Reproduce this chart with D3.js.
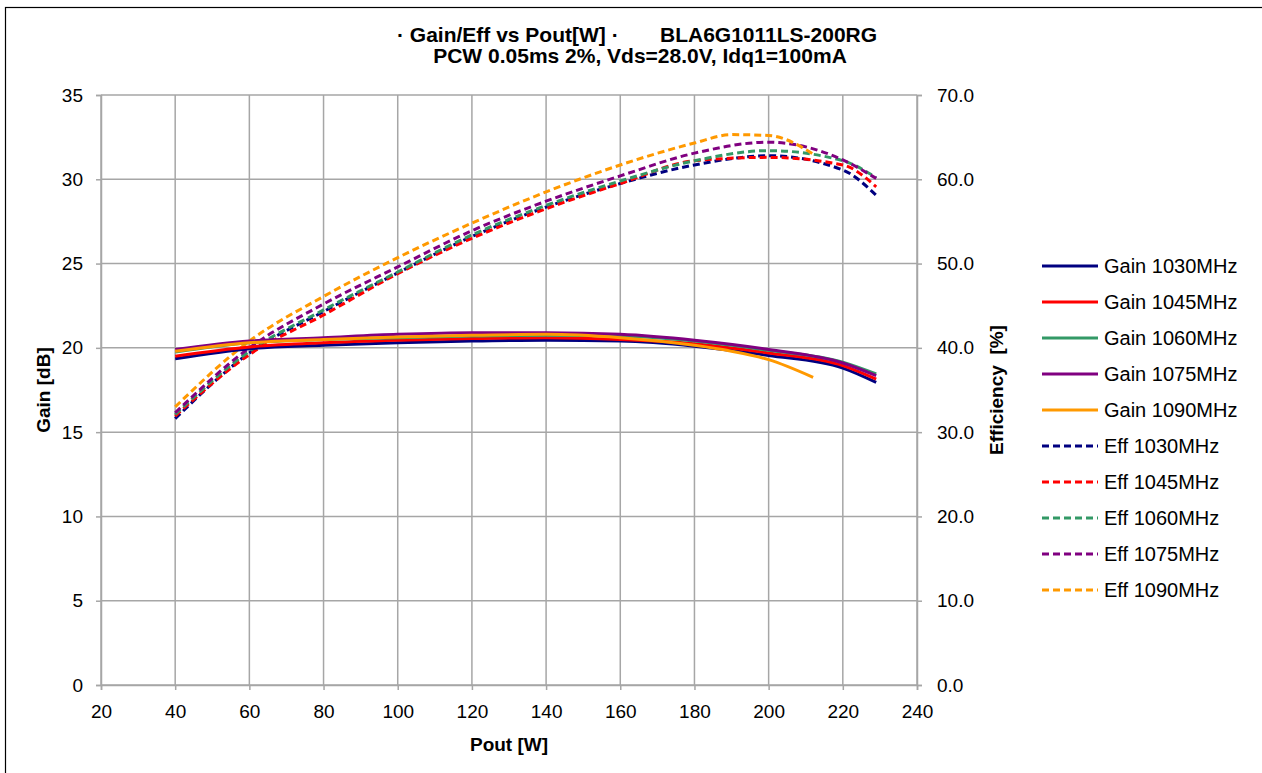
<!DOCTYPE html>
<html>
<head>
<meta charset="utf-8">
<script src="https://cdn.jsdelivr.net/npm/d3@7"></script>
<style>
  body { margin: 0; background: #fff; }
  svg { display: block; font-family: Arial, "Liberation Sans", sans-serif; }
</style>
</head>
<body>
<div id="chart"></div>
<script>
// Pout sample points [W]
const poutAll = [40, 60, 80, 100, 120, 140, 160, 180, 200, 220, 229];
const pout1090 = [40, 60, 80, 100, 120, 140, 160, 180, 190, 200, 212];

// Gain [dB]
const gain1030 = [19.35, 19.95, 20.15, 20.3, 20.4, 20.45, 20.4, 20.1, 19.55, 18.8, 17.95];
const gain1045 = [19.5, 20.05, 20.3, 20.45, 20.55, 20.6, 20.5, 20.25, 19.7, 18.95, 18.15];
const gain1060 = [19.75, 20.3, 20.5, 20.6, 20.7, 20.75, 20.7, 20.4, 19.85, 19.15, 18.45];
const gain1075 = [19.9, 20.4, 20.6, 20.8, 20.9, 20.9, 20.8, 20.45, 19.9, 19.1, 18.35];
const gain1090 = [19.8, 20.3, 20.5, 20.65, 20.75, 20.8, 20.6, 20.15, 19.8, 19.3, 18.25];

// Efficiency [%]
const eff1030 = [31.6, 39.4, 44.3, 48.9, 53.2, 56.7, 59.5, 61.7, 62.8, 61.1, 58.1];
const eff1045 = [31.9, 39.2, 43.9, 48.8, 53.0, 56.5, 59.5, 62.2, 62.6, 61.7, 59.1];
const eff1060 = [32.1, 39.6, 44.5, 49.0, 53.4, 56.9, 59.8, 62.2, 63.4, 62.2, 60.2];
const eff1075 = [32.3, 40.0, 45.2, 49.6, 53.9, 57.4, 60.4, 63.1, 64.4, 62.3, 60.1];
const eff1090 = [33.0, 40.8, 46.1, 50.7, 54.8, 58.5, 61.7, 64.3, 65.3, 65.2, 63.0];

const freqs = ['1030MHz', '1045MHz', '1060MHz', '1075MHz', '1090MHz'];
const colors = ['#000080', '#ff0000', '#339966', '#800080', '#ff9900'];

const xTicks = d3.range(20, 241, 20);
const gainTicks = d3.range(0, 36, 5);
const effTicks = d3.range(0, 71, 10);

const gainSeries = [
  { name: 'Gain ' + freqs[0], x: poutAll, y: gain1030, color: colors[0] },
  { name: 'Gain ' + freqs[1], x: poutAll, y: gain1045, color: colors[1] },
  { name: 'Gain ' + freqs[2], x: poutAll, y: gain1060, color: colors[2] },
  { name: 'Gain ' + freqs[3], x: poutAll, y: gain1075, color: colors[3] },
  { name: 'Gain ' + freqs[4], x: pout1090, y: gain1090, color: colors[4] }
];
const effSeries = [
  { name: 'Eff ' + freqs[0], x: poutAll, y: eff1030, color: colors[0] },
  { name: 'Eff ' + freqs[1], x: poutAll, y: eff1045, color: colors[1] },
  { name: 'Eff ' + freqs[2], x: poutAll, y: eff1060, color: colors[2] },
  { name: 'Eff ' + freqs[3], x: poutAll, y: eff1075, color: colors[3] },
  { name: 'Eff ' + freqs[4], x: pout1090, y: eff1090, color: colors[4] }
];

const width = 1262, height = 773;
const margin = { top: 95, right: 345, bottom: 88, left: 101 };
const plotW = width - margin.left - margin.right;
const plotH = height - margin.top - margin.bottom;
const GRID = '#a6a6a6';
const DASH = '7,4';

const svg = d3.select('#chart').append('svg')
  .attr('width', width)
  .attr('height', height);

// outer chart frame (right/bottom edges fall outside the picture)
svg.append('rect')
  .attr('x', 5.5).attr('y', 7.5)
  .attr('width', width + 20).attr('height', height + 20)
  .attr('fill', 'none').attr('stroke', '#000').attr('stroke-width', 1.2);

const x = d3.scaleLinear().domain([20, 240]).range([0, plotW]);
const yGain = d3.scaleLinear().domain([0, 35]).range([plotH, 0]);
const yEff = d3.scaleLinear().domain([0, 70]).range([plotH, 0]);

const g = svg.append('g').attr('transform', `translate(${margin.left},${margin.top})`);

// grid lines
g.append('g').selectAll('line').data(xTicks).join('line')
  .attr('x1', d => x(d)).attr('x2', d => x(d))
  .attr('y1', 0).attr('y2', plotH)
  .attr('stroke', GRID).attr('stroke-width', 1.5);
g.append('g').selectAll('line').data(gainTicks).join('line')
  .attr('x1', 0).attr('x2', plotW)
  .attr('y1', d => yGain(d)).attr('y2', d => yGain(d))
  .attr('stroke', GRID).attr('stroke-width', 1.5);

// axes
function styleAxis(sel) {
  sel.select('.domain').attr('stroke', GRID).attr('stroke-width', 1.5);
  sel.selectAll('.tick line').attr('stroke', GRID).attr('stroke-width', 1.5);
  sel.selectAll('.tick text').attr('fill', '#000').style('font-size', '19px');
}

g.append('g')
  .attr('transform', `translate(0,${plotH})`)
  .call(d3.axisBottom(x).tickValues(xTicks).tickSizeOuter(0).tickSize(5).tickPadding(15))
  .call(styleAxis);

g.append('g')
  .call(d3.axisLeft(yGain).tickValues(gainTicks).tickSizeOuter(0).tickSize(5).tickPadding(13))
  .call(styleAxis);

g.append('g')
  .attr('transform', `translate(${plotW},0)`)
  .call(d3.axisRight(yEff).tickValues(effTicks).tickFormat(d3.format('.1f')).tickSizeOuter(0).tickSize(5).tickPadding(15))
  .call(styleAxis);

// series lines
const line = d3.line().curve(d3.curveMonotoneX);

effSeries.forEach(s => {
  g.append('path')
    .datum(s.x.map((v, i) => [x(v), yEff(s.y[i])]))
    .attr('d', line)
    .attr('fill', 'none')
    .attr('stroke', s.color)
    .attr('stroke-width', 3)
    .attr('stroke-dasharray', DASH);
});

gainSeries.forEach(s => {
  g.append('path')
    .datum(s.x.map((v, i) => [x(v), yGain(s.y[i])]))
    .attr('d', line)
    .attr('fill', 'none')
    .attr('stroke', s.color)
    .attr('stroke-width', 3);
});

// axis titles
svg.append('text')
  .attr('x', margin.left + plotW / 2).attr('y', 751)
  .attr('text-anchor', 'middle')
  .style('font-size', '19px').style('font-weight', 'bold')
  .text('Pout [W]');

svg.append('text')
  .attr('transform', `translate(50,${margin.top + plotH / 2}) rotate(-90)`)
  .attr('text-anchor', 'middle')
  .style('font-size', '19px').style('font-weight', 'bold')
  .text('Gain [dB]');

svg.append('text')
  .attr('transform', `translate(1003,${margin.top + plotH / 2}) rotate(-90)`)
  .attr('text-anchor', 'middle')
  .style('font-size', '19px').style('font-weight', 'bold')
  .style('white-space', 'pre')
  .text('Efficiency  [%]');

// title
svg.append('text')
  .attr('x', 397).attr('y', 42)
  .style('font-size', '21px').style('font-weight', 'bold')
  .text('· Gain/Eff vs Pout[W] ·');
svg.append('text')
  .attr('x', 660).attr('y', 42)
  .style('font-size', '21px').style('font-weight', 'bold')
  .text('BLA6G1011LS-200RG');
svg.append('text')
  .attr('x', 640).attr('y', 63)
  .attr('text-anchor', 'middle')
  .style('font-size', '21px').style('font-weight', 'bold')
  .text('PCW 0.05ms 2%, Vds=28.0V, Idq1=100mA');

// legend
const legendItems = gainSeries.map(s => ({ ...s, dash: null }))
  .concat(effSeries.map(s => ({ ...s, dash: DASH })));
const legend = svg.append('g').attr('transform', 'translate(1042,266)');
legendItems.forEach((d, i) => {
  const row = legend.append('g').attr('transform', `translate(0,${i * 36})`);
  row.append('line')
    .attr('x1', 0).attr('x2', 56).attr('y1', 0).attr('y2', 0)
    .attr('stroke', d.color).attr('stroke-width', 3)
    .attr('stroke-dasharray', d.dash);
  row.append('text')
    .attr('x', 62).attr('y', 7)
    .style('font-size', '20px')
    .text(d.name);
});
</script>
</body>
</html>
